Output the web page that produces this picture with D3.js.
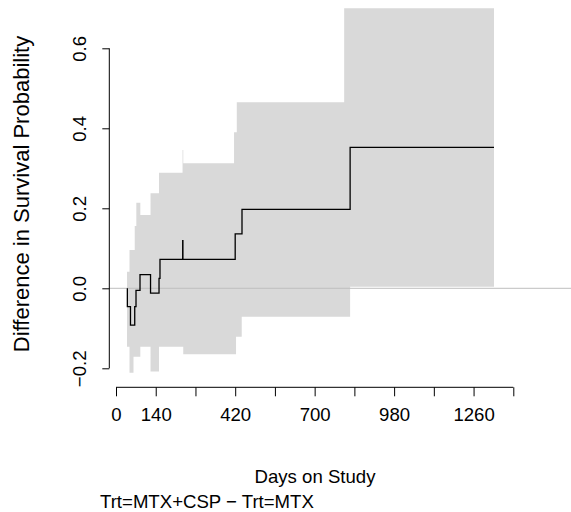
<!DOCTYPE html>
<html>
<head>
<meta charset="utf-8">
<script src="https://cdn.jsdelivr.net/npm/d3@7"></script>
<style>
  html, body { margin: 0; padding: 0; background: #ffffff; }
  svg { display: block; }
  text { font-family: "Liberation Sans", Arial, Helvetica, sans-serif; }
</style>
</head>
<body>
<svg id="chart" width="571" height="512"></svg>
<script>
// ---- data ----
// confidence band (step function, value holds until next time)
const bandTime  = [38.8, 47.6, 61.7, 66, 71.6, 85.7, 121.7, 151.6, 234.5, 237, 416, 423, 425.6, 443, 804, 825];
const bandUpper = [0.0415, 0.096, 0.096, 0.156, 0.214, 0.183, 0.2375, 0.289, 0.346, 0.3125, 0.39, 0.39, 0.465, 0.465, 0.70, 0.70];
const bandLower = [-0.146, -0.211, -0.171, -0.171, -0.171, -0.146, -0.208, -0.146, -0.146, -0.165, -0.165, -0.121, -0.121, -0.071, -0.071, 0.004];
const endTime = 1332;
// estimated difference (step function)
const estTime  = [40, 40, 51, 66, 70.5, 84.6, 121.7, 151.6, 155, 235, 235.8, 420, 444, 825];
const estValue = [0, -0.046, -0.092, -0.046, -0.005, 0.034, -0.012, 0.025, 0.0725, 0.119, 0.0725, 0.136, 0.1975, 0.3525];
// axes
const xTicks = [0, 140, 280, 420, 560, 700, 840, 980, 1120, 1260, 1400];
const xTickLabels = ["0", "140", "", "420", "", "700", "", "980", "", "1260", ""];
const yTicks = [-0.2, 0.0, 0.2, 0.4, 0.6];
const yTickLabels = ["\u22120.2", "0.0", "0.2", "0.4", "0.6"];
const xTitle = "Days on Study";
const yTitle = "Difference in Survival Probability";
const subTitle = "Trt=MTX+CSP \u2212 Trt=MTX";

// ---- drawing ----
const svg = d3.select("#chart");
const x = d3.scaleLinear().domain([0, 1400]).range([116, 513.3]);
const y = d3.scaleLinear().domain([-0.2, 0.6]).range([368.3, 48.3]);

const band = bandTime.map((t, i) => ({t, lo: bandLower[i], hi: bandUpper[i]}));
band.push({t: endTime, lo: bandLower[bandLower.length - 1], hi: bandUpper[bandUpper.length - 1]});

svg.append("path")
  .datum(band)
  .attr("fill", "#d9d9d9")
  .attr("stroke", "none")
  .attr("d", d3.area().curve(d3.curveStepAfter)
    .x(d => x(d.t)).y0(d => y(d.lo)).y1(d => y(d.hi)));

// zero reference line
svg.append("line")
  .attr("x1", 109.3).attr("x2", 571)
  .attr("y1", y(0)).attr("y2", y(0))
  .attr("stroke", "#bebebe").attr("stroke-width", 1);

const est = estTime.map((t, i) => ({t, v: estValue[i]}));
est.push({t: endTime, v: estValue[estValue.length - 1]});
svg.append("path")
  .datum(est)
  .attr("fill", "none")
  .attr("stroke", "#000")
  .attr("stroke-width", 1.3)
  .attr("d", d3.line().curve(d3.curveStepAfter).x(d => x(d.t)).y(d => y(d.v)));

const FS = 18.6;
// x axis
const xAxis = svg.append("g")
  .attr("transform", "translate(0,387.3)")
  .call(d3.axisBottom(x).tickValues(xTicks)
    .tickFormat((d, i) => xTickLabels[i]).tickSizeOuter(0).tickSize(9).tickPadding(11));
xAxis.select(".domain").attr("stroke", "#000").attr("d", `M${x(0)},0H${x(1400)}`);
xAxis.selectAll(".tick line").attr("stroke", "#000");
xAxis.selectAll("text").attr("font-size", FS).attr("fill", "#000")
  .attr("font-family", '"Liberation Sans", Arial, sans-serif');

// y axis
const yAxis = svg.append("g")
  .attr("transform", "translate(109.3,0)")
  .call(d3.axisLeft(y).tickValues(yTicks)
    .tickFormat((d, i) => yTickLabels[i]).tickSizeOuter(0).tickSize(7));
yAxis.select(".domain").attr("stroke", "#000").attr("d", `M0,${y(-0.2)}V${y(0.6)}`);
yAxis.selectAll(".tick line").attr("stroke", "#000");
yAxis.selectAll(".tick text")
  .attr("font-size", FS).attr("fill", "#000")
  .attr("font-family", '"Liberation Sans", Arial, sans-serif')
  .attr("x", null).attr("dy", null)
  .attr("text-anchor", "middle")
  .attr("transform", "translate(-23,0) rotate(-90)");

// titles
svg.append("text")
  .attr("x", 315).attr("y", 483)
  .attr("text-anchor", "middle").attr("font-size", FS)
  .text(xTitle);

svg.append("text")
  .attr("transform", "translate(29,194) rotate(-90)")
  .attr("text-anchor", "middle").attr("font-size", 22)
  .text(yTitle);

svg.append("text")
  .attr("x", 100).attr("y", 508)
  .attr("text-anchor", "start").attr("font-size", FS)
  .text(subTitle);
</script>
</body>
</html>
